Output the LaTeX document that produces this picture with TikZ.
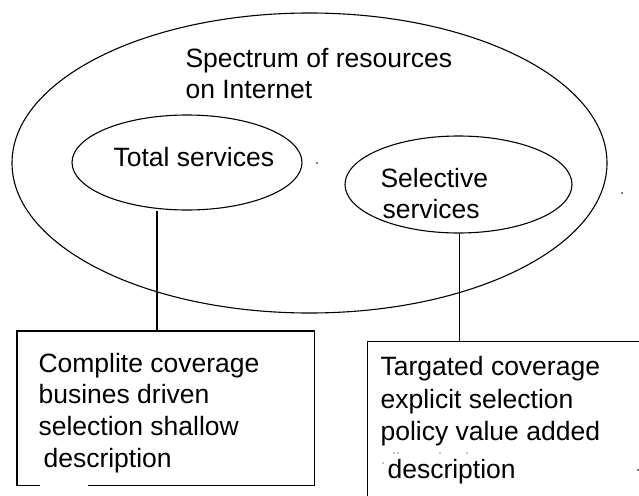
\documentclass[tikz,border=0pt]{standalone}
\usepackage{fontspec}
\setmainfont{Liberation Sans}
\usetikzlibrary{shapes.geometric}
\begin{document}
\begin{tikzpicture}[x=1pt,y=-1pt,
  line width=1.1pt,
  oval/.style={ellipse,draw,inner sep=0pt},
  box/.style={rectangle,draw=none,inner sep=0pt,anchor=north west},
  txt/.style={anchor=base west,inner sep=0pt,font=\fontsize{26.5}{31}\selectfont},
  speck/.style={circle,fill,inner sep=0pt,minimum size=1.6pt}]
\useasboundingbox (0,0) rectangle (639,495);
\clip (0,0) rectangle (639,495);
\fill[white] (0,0) rectangle (639,495);

% ellipses
\node[oval,minimum width=595pt,minimum height=300pt] (spec) at (309.5,163) {};
\node[oval,minimum width=230pt,minimum height=95pt] (total) at (187,162.5) {};
\node[oval,minimum width=227pt,minimum height=97pt] (sel) at (458.5,184.5) {};

% texts in ellipses
\node[txt] (s1) at (185,67) {Spectrum of resources};
\node[txt] (s2) at (185,98) {on Internet};
\node[txt] (ts) at (113,166) {Total services};
\node[txt] (ss1) at (380,187) {Selective};
\node[txt] (ss2) at (382,218) {services};

% boxes
\node[box,minimum width=296pt,minimum height=153pt] (lbox) at (17,331) {};
\draw ([xshift=23pt]lbox.south west) -- (lbox.south west) -- (lbox.north west)
      -- (lbox.north east) -- (lbox.south east) -- ([xshift=71pt]lbox.south west);
\node[box,draw,minimum width=320pt,minimum height=180pt] (rbox) at (367,341) {};

% box texts
\node[txt] (l1) at (38,372) {Complite coverage};
\node[txt] (l2) at (38,403) {busines driven};
\node[txt] (l3) at (38,435) {selection shallow};
\node[txt] (l4) at (43,467) {description};
\node[txt] (r1) at (380,375) {Targated coverage};
\node[txt] (r2) at (380,408) {explicit selection};
\node[txt] (r3) at (380,440) {policy value added};
\node[txt] (r4) at (387,478) {description};

% connectors
\coordinate (L) at (157,0);
\coordinate (R) at (459.5,0);
\draw (total.south -| L) -- (lbox.north -| L);
\draw (sel.south -| R) -- (rbox.north -| R);

% stray specks
\node[speck] (d1) at (317,163) {};
\node[speck] (d2) at (622,193) {};
\node[speck] (d3) at (638,470) {};
\node[speck,minimum size=1.2pt] (d4) at (394,453) {};
\node[speck,minimum size=1.2pt] (d5) at (398,453) {};
\node[speck,minimum size=1.2pt] (d6) at (440,453) {};
\node[speck,minimum size=1.2pt] (d7) at (467,453) {};
\node[speck,minimum size=1.2pt] (d8) at (383,463) {};
\end{tikzpicture}
\end{document}
